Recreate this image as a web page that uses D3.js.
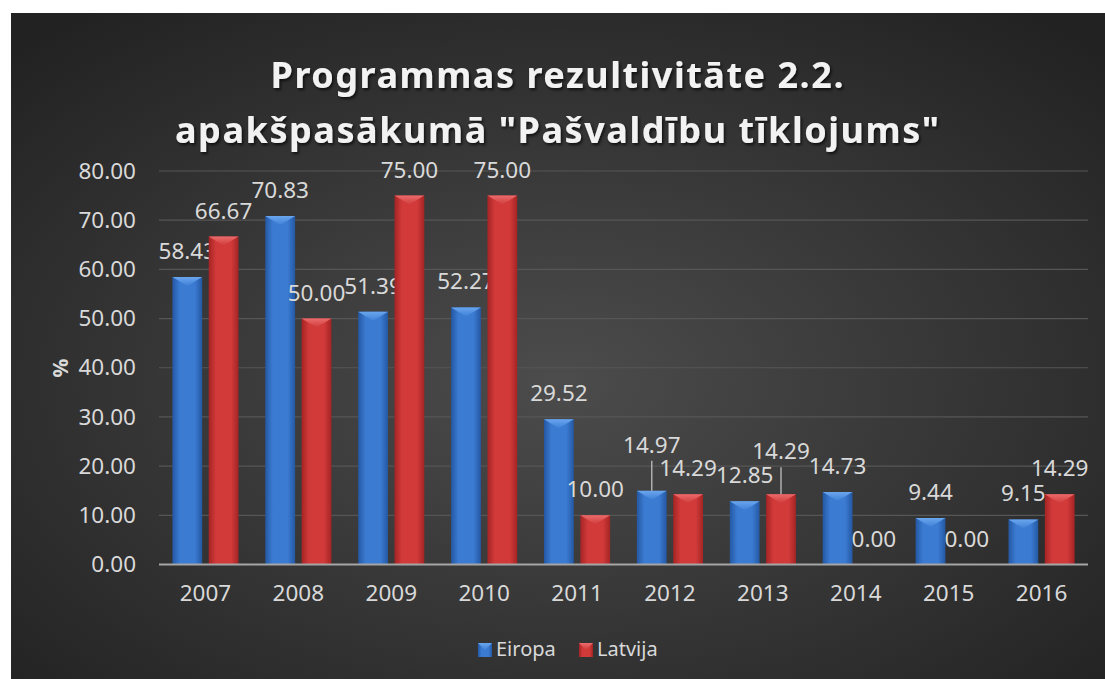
<!DOCTYPE html>
<html>
<head>
<meta charset="utf-8">
<script src="https://cdn.jsdelivr.net/npm/d3@7"></script>
<style>
  html, body { margin: 0; padding: 0; background: #ffffff; }
  svg { display: block; }
  text { font-family: "Noto Sans", "Open Sans", sans-serif; }
</style>
</head>
<body>
<div id="chart"></div>
<script>
// ---- data ----
const years = ["2007", "2008", "2009", "2010", "2011", "2012", "2013", "2014", "2015", "2016"];
const seriesNames = ["Eiropa", "Latvija"];
const eiropa = [58.43, 70.83, 51.39, 52.27, 29.52, 14.97, 12.85, 14.73, 9.44, 9.15];
const latvija = [66.67, 50.00, 75.00, 75.00, 10.00, 14.29, 14.29, 0.00, 0.00, 14.29];
const yTicks = [0, 10, 20, 30, 40, 50, 60, 70, 80];
const titleLines = ["Programmas rezultivitāte 2.2.", "apakšpasākumā \"Pašvaldību tīklojums\""];
const yLabel = "%";

// labels that Excel pushed up (with leader line): "series|year" -> extra px
const labelLift = { "Eiropa|2012": 20, "Latvija|2013": 17 };

const W = 1105, H = 679;
const margin = { top: 171, left: 159, right: 17, bottom: 114.5 };

const svg = d3.select("#chart").append("svg")
  .attr("width", W).attr("height", H);

const defs = svg.append("defs");

// background radial gradient
const bg = defs.append("radialGradient").attr("id", "bgGrad")
  .attr("cx", "50%").attr("cy", "55%").attr("r", "70%");
bg.append("stop").attr("offset", "0%").attr("stop-color", "#4c4c4c");
bg.append("stop").attr("offset", "100%").attr("stop-color", "#222222");

// bar gradients
const palettes = {
  Eiropa: { mid: "#3b7bd2", edge: "#2458a3", top: "#6aa6ee", topEdge: "#3f80d6" },
  Latvija: { mid: "#d23a3a", edge: "#a52424", top: "#ec6b6b", topEdge: "#cf3b3b" }
};
seriesNames.forEach(s => {
  const g = defs.append("linearGradient").attr("id", "body-" + s)
    .attr("x1", "0%").attr("x2", "100%").attr("y1", "0%").attr("y2", "0%");
  g.append("stop").attr("offset", "0%").attr("stop-color", palettes[s].edge);
  g.append("stop").attr("offset", "25%").attr("stop-color", palettes[s].mid);
  g.append("stop").attr("offset", "75%").attr("stop-color", palettes[s].mid);
  g.append("stop").attr("offset", "100%").attr("stop-color", palettes[s].edge);
  const t = defs.append("linearGradient").attr("id", "top-" + s)
    .attr("x1", "0%").attr("x2", "0%").attr("y1", "0%").attr("y2", "100%");
  t.append("stop").attr("offset", "0%").attr("stop-color", palettes[s].top);
  t.append("stop").attr("offset", "100%").attr("stop-color", palettes[s].topEdge);
});

const shadow = defs.append("filter").attr("id", "txtShadow")
  .attr("x", "-10%").attr("y", "-10%").attr("width", "120%").attr("height", "140%");
shadow.append("feDropShadow").attr("dx", 1.5).attr("dy", 2).attr("stdDeviation", 1.5)
  .attr("flood-color", "#000").attr("flood-opacity", 0.7);

svg.append("rect")
  .attr("x", 11).attr("y", 13).attr("width", W - 11).attr("height", H - 13)
  .attr("fill", "url(#bgGrad)");

// ---- title ----
const titleWidths = [573, 764];
svg.append("g").selectAll("text")
  .data(titleLines)
  .enter().append("text")
  .attr("x", 557)
  .attr("y", (d, i) => 88 + i * 55)
  .attr("text-anchor", "middle")
  .attr("font-size", 36)
  .attr("font-weight", "bold")
  .attr("textLength", (d, i) => titleWidths[i])
  .attr("lengthAdjust", "spacing")
  .attr("fill", "#f2f2f2")
  .attr("filter", "url(#txtShadow)")
  .text(d => d);

// ---- scales ----
const x0 = d3.scaleBand()
  .domain(years)
  .range([margin.left, W - margin.right]);

const x1 = d3.scaleBand()
  .domain(seriesNames)
  .range([13.4, x0.bandwidth() - 13.4])
  .paddingInner(0.18);

const y = d3.scaleLinear()
  .domain([0, 80])
  .range([H - margin.bottom, margin.top]);

// gridlines
svg.append("g").selectAll("line")
  .data(yTicks.filter(t => t > 0))
  .enter().append("line")
  .attr("x1", margin.left).attr("x2", W - margin.right)
  .attr("y1", d => y(d)).attr("y2", d => y(d))
  .attr("stroke", "#565656").attr("stroke-width", 1.2);

// y axis labels
const yAxis = d3.axisLeft(y).tickValues(yTicks).tickFormat(d3.format(".2f")).tickSize(0).tickPadding(23);
const yG = svg.append("g").attr("transform", `translate(${margin.left},0)`).call(yAxis);
yG.select(".domain").remove();
yG.selectAll("text")
  .attr("font-size", 22.5)
  .attr("font-family", "Noto Sans, sans-serif")
  .attr("fill", "#d9d9d9");

svg.append("text")
  .attr("transform", `translate(68,368) rotate(-90)`)
  .attr("text-anchor", "middle")
  .attr("font-size", 21)
  .attr("font-weight", "bold")
  .attr("fill", "#d9d9d9")
  .text(yLabel);

// x axis labels
const xAxis = d3.axisBottom(x0).tickSize(0).tickPadding(21);
const xG = svg.append("g").attr("transform", `translate(0,${y(0)})`).call(xAxis);
xG.select(".domain").remove();
xG.selectAll("text")
  .attr("font-size", 22.5)
  .attr("font-family", "Noto Sans, sans-serif")
  .attr("fill", "#d9d9d9");

// ---- bars ----
const rows = [];
years.forEach((yr, i) => {
  rows.push({ year: yr, series: "Eiropa", value: eiropa[i] });
  rows.push({ year: yr, series: "Latvija", value: latvija[i] });
});

const barG = svg.append("g");
const bars = barG.selectAll("g.bar")
  .data(rows)
  .enter().append("g").attr("class", "bar");

bars.append("rect")
  .attr("x", d => x0(d.year) + x1(d.series))
  .attr("y", d => y(d.value))
  .attr("width", x1.bandwidth())
  .attr("height", d => y(0) - y(d.value))
  .attr("fill", d => "url(#body-" + d.series + ")");

// bevelled top
bars.filter(d => d.value > 0).append("path")
  .attr("d", d => {
    const bx = x0(d.year) + x1(d.series);
    const by = y(d.value);
    const bw = x1.bandwidth();
    const bev = Math.min(9, y(0) - by);
    return `M${bx},${by}L${bx + bw},${by}L${bx + bw / 2},${by + bev}Z`;
  })
  .attr("fill", d => "url(#top-" + d.series + ")");

// baseline
svg.append("line")
  .attr("x1", margin.left).attr("x2", W - margin.right)
  .attr("y1", y(0)).attr("y2", y(0))
  .attr("stroke", "#a6a6a6").attr("stroke-width", 2.2);

// value labels
const fmt = d3.format(".2f");
bars.append("text")
  .attr("x", d => x0(d.year) + x1(d.series) + x1.bandwidth() / 2)
  .attr("y", d => y(d.value) - 18 - (labelLift[d.series + "|" + d.year] || 0))
  .attr("text-anchor", "middle")
  .attr("font-size", 22.5)
  .attr("fill", "#d9d9d9")
  .text(d => fmt(d.value));

// leader lines for lifted labels
bars.filter(d => labelLift[d.series + "|" + d.year])
  .append("line")
  .attr("x1", d => x0(d.year) + x1(d.series) + x1.bandwidth() / 2)
  .attr("x2", d => x0(d.year) + x1(d.series) + x1.bandwidth() / 2)
  .attr("y1", d => y(d.value) - 18 - labelLift[d.series + "|" + d.year] + 8)
  .attr("y2", d => y(d.value))
  .attr("stroke", "#bfbfbf").attr("stroke-width", 1.3);

// ---- legend ----
const legendX = [478, 579];
const leg = svg.append("g").selectAll("g")
  .data(seriesNames)
  .enter().append("g")
  .attr("transform", (d, i) => `translate(${legendX[i]},643)`);
leg.append("rect")
  .attr("width", 14).attr("height", 14)
  .attr("fill", d => "url(#body-" + d + ")");
leg.append("path")
  .attr("d", "M0,0L14,0L7,7Z")
  .attr("fill", d => "url(#top-" + d + ")");
leg.append("text")
  .attr("x", 18).attr("y", 13)
  .attr("font-size", 20)
  .attr("fill", "#d9d9d9")
  .text(d => d);
</script>
</body>
</html>
